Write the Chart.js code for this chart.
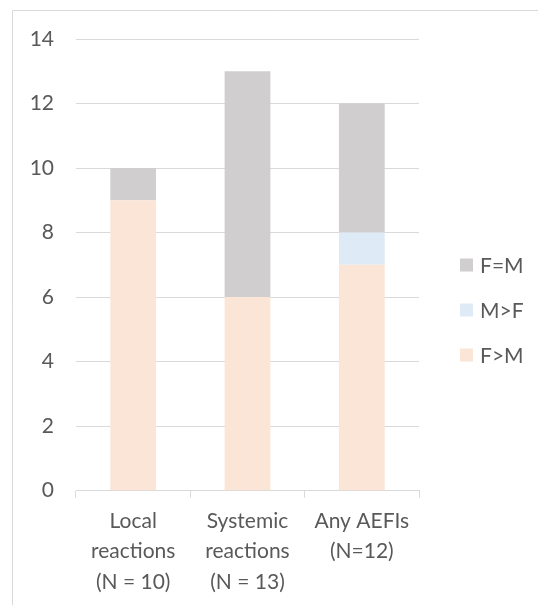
<!DOCTYPE html>
<html>
<head>
<meta charset="utf-8">
<script src="https://cdn.jsdelivr.net/npm/chart.js@4/dist/chart.umd.min.js"></script>
<style>
  html, body { margin: 0; padding: 0; background: #ffffff; }
  #wrap { position: relative; width: 538px; height: 605px; }
</style>
</head>
<body>
<div id="wrap"><canvas id="c" width="538" height="605"></canvas></div>
<script>
// Categories (multi-line axis labels)
const categories = [
  ["Local", "reactions", "(N = 10)"],
  ["Systemic", "reactions", "(N = 13)"],
  ["Any AEFIs", "(N=12)"]
];
// Counts per category, stacked bottom to top
const femaleGreater = [9, 6, 7];   // F>M
const maleGreater   = [0, 0, 1];   // M>F
const equalSexes    = [1, 7, 4];   // F=M
const yTicks = [0, 2, 4, 6, 8, 10, 12, 14];

const TEXT = '#595959';
const GRID = '#d9d9d9';
const FONT = 'Lato, "Open Sans", sans-serif';

// Light frame around the chart
const framePlugin = {
  id: 'frame',
  beforeDraw(chart) {
    const ctx = chart.ctx;
    ctx.save();
    ctx.strokeStyle = GRID;
    ctx.lineWidth = 1;
    ctx.beginPath();
    ctx.moveTo(12.5, 605);
    ctx.lineTo(12.5, 10.5);
    ctx.lineTo(538, 10.5);
    ctx.stroke();
    ctx.restore();
  }
};

// Legend on the right, top entry is the top of the stack
const legendPlugin = {
  id: 'sideLegend',
  afterDraw(chart) {
    const ctx = chart.ctx;
    const items = chart.data.datasets.map((d, i) => ({ label: d.label, color: d.backgroundColor, i })).reverse();
    const x = 460, y0 = 265, step = 45, box = 13;
    ctx.save();
    ctx.font = '21px ' + FONT;
    ctx.textBaseline = 'middle';
    ctx.fillStyle = TEXT;
    items.forEach((it, k) => {
      const y = y0 + k * step;
      ctx.fillStyle = it.color;
      ctx.fillRect(x, y - box / 2, box, box);
      ctx.fillStyle = TEXT;
      ctx.fillText(it.label, x + 20, y + 1);
    });
    ctx.restore();
  }
};

new Chart(document.getElementById('c'), {
  type: 'bar',
  data: {
    labels: categories,
    datasets: [
      { label: 'F>M', data: femaleGreater, backgroundColor: '#fbe5d6' },
      { label: 'M>F', data: maleGreater,   backgroundColor: '#deebf7' },
      { label: 'F=M', data: equalSexes,    backgroundColor: '#d0cece' }
    ]
  },
  options: {
    responsive: false,
    animation: false,
    devicePixelRatio: 1,
    categoryPercentage: 1.0,
    barPercentage: 0.4,
    layout: { padding: { left: 12, right: 119, top: 39, bottom: 0 } },
    plugins: {
      legend: { display: false },
      tooltip: { enabled: false }
    },
    scales: {
      x: {
        stacked: true,
        border: { display: true, color: GRID, width: 1 },
        grid: {
          offset: true,
          drawOnChartArea: false,
          drawTicks: true,
          tickLength: 7,
          color: GRID
        },
        ticks: {
          color: TEXT,
          font: { family: FONT, size: 21, lineHeight: 1.45 },
          padding: 8,
          maxRotation: 0,
          autoSkip: false
        }
      },
      y: {
        stacked: true,
        min: 0,
        max: 14,
        afterFit(s) { s.width = 64; },
        afterBuildTicks(s) { s.ticks = yTicks.map(v => ({ value: v })); },
        border: { display: false },
        grid: { color: GRID, lineWidth: 1, drawTicks: false },
        ticks: {
          color: TEXT,
          font: { family: FONT, size: 21 },
          padding: 22
        }
      }
    }
  },
  plugins: [framePlugin, legendPlugin]
});
</script>
</body>
</html>
